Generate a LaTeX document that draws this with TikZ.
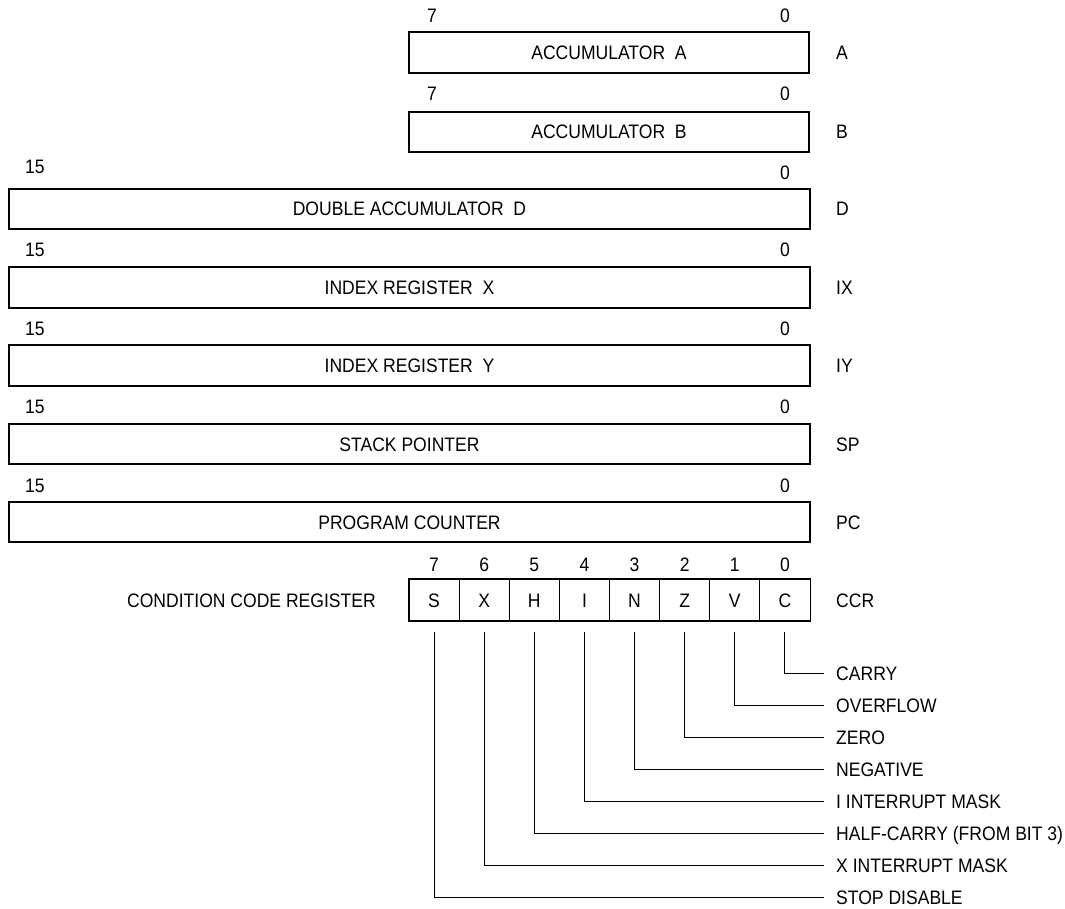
\documentclass[tikz,border=0pt]{standalone}
\usepackage{fontspec}
\setmainfont[FakeStretch=0.9]{Liberation Sans}
\usetikzlibrary{calc}
\begin{document}
\begin{tikzpicture}[x=1pt,y=-1pt,
  txt/.style={inner sep=0pt, text height=14pt, text depth=0pt, font=\fontsize{19.5}{22}\selectfont},
  regbox/.style={draw, line width=1.8pt, minimum height=40.5, inner sep=0pt, txt},
  cell/.style={draw, line width=0.9pt, minimum width=50.125, minimum height=41, inner sep=0pt, txt},
  leader/.style={line width=0.9pt}
]
\useasboundingbox (0,0) rectangle (1065,909);

% registers
\node[regbox, minimum width=400] (A) at (609,52.5) {ACCUMULATOR\ \ A};
\node[regbox, minimum width=400] (B) at (609,132) {ACCUMULATOR\ \ B};
\node[regbox, minimum width=801] (D) at (409.5,209) {DOUBLE ACCUMULATOR\ \ D};
\node[regbox, minimum width=801] (IX) at (409.5,287.5) {INDEX REGISTER\ \ X};
\node[regbox, minimum width=801] (IY) at (409.5,365.5) {INDEX REGISTER\ \ Y};
\node[regbox, minimum width=801] (SP) at (409.5,444) {STACK POINTER};
\node[regbox, minimum width=801] (PC) at (409.5,522) {PROGRAM COUNTER};

% right names
\node[txt, anchor=west] (nA) at (836,52.5) {A};
\node[txt, anchor=west] (nB) at (836,132) {B};
\node[txt, anchor=west] (nD) at (836,209) {D};
\node[txt, anchor=west] (nIX) at (836,287.5) {IX};
\node[txt, anchor=west] (nIY) at (836,365.5) {IY};
\node[txt, anchor=west] (nSP) at (836,444) {SP};
\node[txt, anchor=west] (nPC) at (836,522) {PC};

% bit numbers
\node[txt] (a7) at (432,16) {7};
\node[txt] (a0) at (785,16) {0};
\node[txt] (b7) at (432,94) {7};
\node[txt] (b0) at (785,94) {0};
\node[txt] (d15) at (35,167) {15};
\node[txt] (d0) at (785,173) {0};
\node[txt] (x15) at (35,250) {15};
\node[txt] (x0) at (785,250) {0};
\node[txt] (y15) at (35,328) {15};
\node[txt] (y0) at (785,328) {0};
\node[txt] (s15) at (35,406) {15};
\node[txt] (s0) at (785,406) {0};
\node[txt] (p15) at (35,485) {15};
\node[txt] (p0) at (785,485) {0};

% CCR
\node[txt, anchor=east] (ccrname) at (376,600) {CONDITION CODE REGISTER};
\foreach \b/\l [count=\i from 0] in {7/S,6/X,5/H,4/I,3/N,2/Z,1/V,0/C}{
  \node[cell] (c\b) at ({434.06+50.125*\i},600) {\l};
  \node[txt] (n\b) at ({434.06+50.125*\i},564) {\b};
}
\draw[line width=1.8pt] (c7.north west) rectangle (c0.south east);
\node[txt, anchor=west] (nCCR) at (836,600) {CCR};

% flag labels and leaders
\foreach \b/\y/\t in {0/673/CARRY,1/705/OVERFLOW,2/737/ZERO,3/769/NEGATIVE,4/801/I INTERRUPT MASK,5/833/HALF-CARRY (FROM BIT 3),6/865/X INTERRUPT MASK,7/897/STOP DISABLE}{
  \node[txt, anchor=west] (f\b) at (836,\y) {\t};
  \coordinate (s\b) at ($(c\b.south)+(0,11)$);
  \coordinate (e\b) at ($(f\b.west)+(-12,0)$);
  \draw[leader] (s\b) |- (e\b);
}
\end{tikzpicture}
\end{document}
